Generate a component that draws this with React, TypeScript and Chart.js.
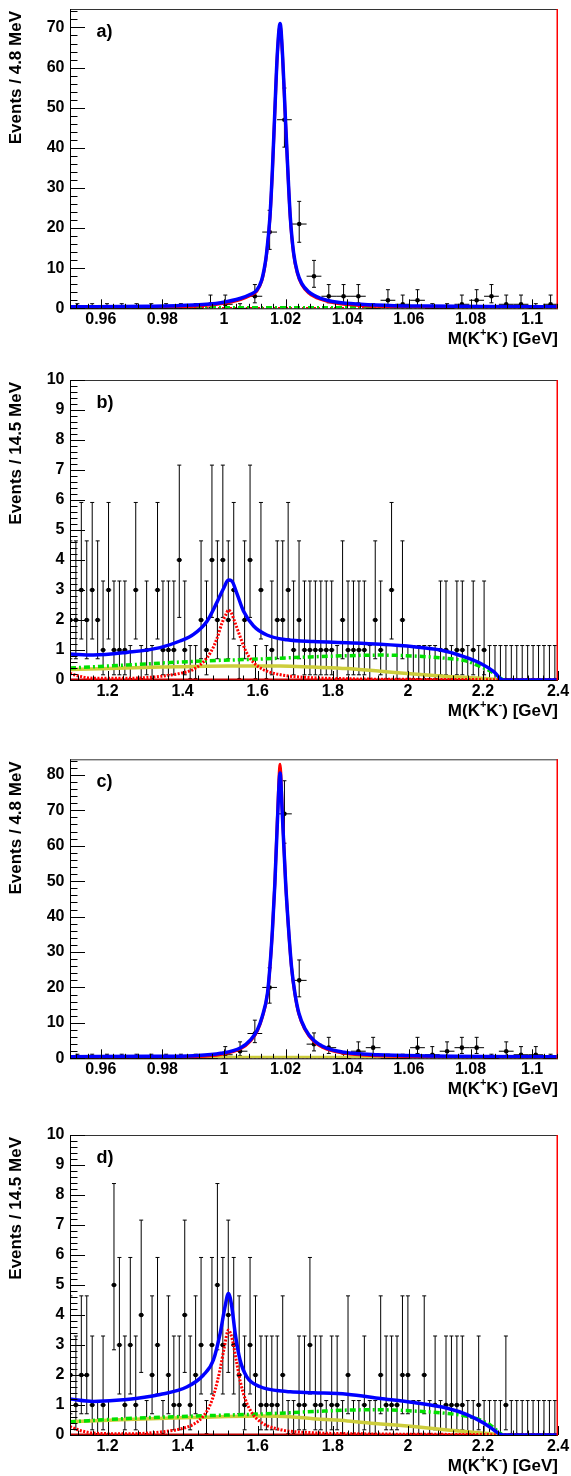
import React, { useEffect, useRef } from "react";
import { Chart, registerables } from "chart.js";
Chart.register(...registerables);

const FONT = '"Liberation Sans", Arial, Helvetica, sans-serif';
const BLUE = "rgb(0,0,255)";
const RED = "rgb(255,0,0)";
const DARKRED = "rgb(190,0,0)";
const GREEN = "rgb(0,225,0)";
const YELLOW = "rgb(205,205,60)";

// ---------- binning ----------
const phiBinStart = 0.95;
const phiBinWidth = 0.0048;
const highBinStart = 1.0939;
const highBinWidth = 0.0145;

// ---------- data (events per bin) ----------
const countsA = [0, 0, 0, 0, 0, 0, 0, 0, 0, 1, 1, 0, 3, 19, 47, 21, 8, 3, 3, 3, 0, 2, 1, 2, 0, 0, 1, 2, 3, 1, 1, 0, 1];
const countsC = [0, 0, 0, 0, 0, 0, 0, 0, 0, 0, 1, 2, 7, 20, 69, 22, 4, 3, 0, 2, 3, 0, 0, 3, 1, 2, 3, 3, 0, 2, 1, 1, 0];
const countsB = [
  2, 2, 3, 2, 3, 2, 1, 3, 1, 1, 1, 0, 3, 0, 1, 0, 3, 1, 1, 1,
  4, 1, 0, 0, 2, 1, 4, 2, 4, 2, 3, 0, 2, 4, 0, 3, 0, 1, 2, 2,
  3, 1, 2, 1, 1, 1, 1, 1, 1, 0, 2, 1, 1, 1, 1, 0, 2, 1, 0, 3,
  0, 2, 0, 0, 0, 0, 0, 0, 1, 1, 0, 1, 1, 0, 1, 0, 1, 0, 0, 0,
  0, 0, 0, 0, 0, 0, 0, 0, 0, 0,
];
const countsD = [
  2, 1, 2, 2, 1, 0, 1, 0, 5, 3, 1, 3, 1, 4, 0, 2, 3, 0, 2, 1,
  1, 4, 1, 2, 3, 0, 3, 5, 3, 4, 3, 2, 1, 3, 2, 1, 1, 1, 1, 2,
  0, 0, 1, 1, 3, 1, 1, 0, 1, 1, 0, 2, 0, 0, 1, 0, 0, 2, 1, 1,
  1, 2, 2, 0, 0, 2, 0, 1, 0, 1, 1, 1, 1, 0, 0, 1, 0, 0, 0, 0,
  1, 0, 0, 0, 0, 0, 0, 0, 0, 0,
];

// Poisson 68% intervals [low, high] for observed counts
const poissonInterval: Record<number, [number, number]> = {
  0: [0, 1.148], 1: [0.173, 3.3], 2: [0.708, 4.638], 3: [1.367, 5.918],
  4: [2.086, 7.163], 5: [2.84, 8.382], 7: [4.424, 10.763], 8: [5.237, 11.939],
  19: [14.684, 24.43], 20: [15.569, 25.542], 21: [16.458, 26.651], 22: [17.349, 27.757],
  47: [40.171, 54.903], 69: [60.716, 78.344],
};

// ---------- fit curves [x, y] ----------
type Pt = [number, number];
const totalA: Pt[] = [
  [0.95, 0.4], [0.9761, 0.5], [0.9901, 0.8], [0.9989, 1.4], [1.0054, 2.5], [1.0086, 3.5],
  [1.0106, 4.5], [1.0122, 7.0], [1.0132, 10.5], [1.0138, 13.7], [1.0149, 22.8], [1.0157, 34.5],
  [1.0165, 49.4], [1.0173, 63.5], [1.0182, 71.0], [1.019, 63.0], [1.0198, 49.4], [1.0207, 34.5],
  [1.0215, 22.8], [1.0226, 13.7], [1.0238, 9.0], [1.0252, 6.2], [1.0275, 4.1], [1.0314, 2.5],
  [1.0369, 1.5], [1.0444, 1.0], [1.0552, 0.65], [1.0662, 0.55], [1.0835, 0.45], [1.1084, 0.4],
];
const signalA: Pt[] = [
  [0.95, 0.1], [0.9761, 0.2], [0.9901, 0.5], [0.9989, 1.1], [1.0054, 2.2], [1.0086, 3.2],
  [1.0106, 4.2], [1.0122, 6.7], [1.0132, 10.2], [1.0138, 13.4], [1.0149, 22.5], [1.0157, 34.2],
  [1.0165, 49.1], [1.0173, 63.2], [1.0182, 70.7], [1.019, 62.7], [1.0198, 49.1], [1.0207, 34.2],
  [1.0215, 22.5], [1.0226, 13.4], [1.0238, 8.7], [1.0252, 5.9], [1.0275, 3.8], [1.0314, 2.2],
  [1.0369, 1.2], [1.0444, 0.7], [1.0552, 0.35], [1.0662, 0.25], [1.0835, 0.15], [1.1084, 0.1],
];
const bkgA: Pt[] = [[0.95, 0.2], [1.03, 0.2], [1.1084, 0.2]];
const flatA: Pt[] = [[0.95, 0.05], [1.1084, 0.05]];

const totalC: Pt[] = [
  [0.95, 0.45], [0.9761, 0.55], [0.9901, 0.75], [0.9989, 1.4], [1.0054, 3.0], [1.0086, 5.2],
  [1.0108, 8.0], [1.0124, 11.8], [1.0141, 18.4], [1.0149, 25.9], [1.0157, 36.2], [1.0165, 49.4],
  [1.0173, 66.4], [1.0182, 80.5], [1.0189, 69.2], [1.02, 49.4], [1.0209, 37.2], [1.0219, 25.9],
  [1.023, 18.4], [1.0243, 12.7], [1.0262, 8.5], [1.0292, 5.0], [1.0336, 2.8], [1.039, 1.7],
  [1.0499, 1.0], [1.0662, 0.65], [1.0835, 0.5], [1.1084, 0.45],
];
const signalC: Pt[] = [
  [0.95, 0.15], [0.9761, 0.25], [0.9901, 0.45], [0.9989, 1.1], [1.0054, 2.7], [1.0086, 4.9],
  [1.0108, 7.7], [1.0124, 11.5], [1.0141, 18.1], [1.0149, 25.6], [1.0157, 35.9], [1.0165, 49.5],
  [1.0173, 67.5], [1.0182, 83.0], [1.0189, 70.0], [1.02, 49.5], [1.0209, 36.9], [1.0219, 25.6],
  [1.023, 18.1], [1.0243, 12.4], [1.0262, 8.2], [1.0292, 4.7], [1.0336, 2.5], [1.039, 1.4],
  [1.0499, 0.7], [1.0662, 0.35], [1.0835, 0.2], [1.1084, 0.15],
];
const bkgC: Pt[] = [[0.95, 0.35], [1.03, 0.35], [1.1084, 0.35]];
const flatC: Pt[] = [[0.95, 0.05], [1.1084, 0.05]];

const totalB: Pt[] = [
  [1.1, 0.87], [1.162, 0.83], [1.251, 0.92], [1.34, 1.08], [1.393, 1.3], [1.429, 1.52],
  [1.4645, 1.95], [1.491, 2.58], [1.509, 3.05], [1.522, 3.33], [1.531, 3.3], [1.5445, 2.89],
  [1.562, 2.3], [1.589, 1.8], [1.6245, 1.5], [1.678, 1.34], [1.749, 1.28], [1.838, 1.24],
  [1.927, 1.19], [2.0155, 1.11], [2.087, 1.0], [2.149, 0.78], [2.193, 0.56], [2.229, 0.28],
  [2.2533, 0.0], [2.4, 0.0],
];
const signalB: Pt[] = [
  [1.1, 0.22], [1.127, 0.12], [1.162, 0.06], [1.26, 0.06], [1.34, 0.12], [1.393, 0.22],
  [1.428, 0.35], [1.455, 0.6], [1.476, 0.95], [1.492, 1.4], [1.505, 1.9], [1.516, 2.2],
  [1.522, 2.33], [1.529, 2.25], [1.54, 1.9], [1.553, 1.45], [1.567, 1.0], [1.58, 0.72],
  [1.601, 0.45], [1.628, 0.28], [1.673, 0.15], [1.74, 0.08], [1.847, 0.04], [2.033, 0.02],
  [2.247, 0.01], [2.4, 0.0],
];
const phspB: Pt[] = [
  [1.1, 0.4], [1.252, 0.5], [1.428, 0.62], [1.607, 0.7], [1.74, 0.77], [1.839, 0.81],
  [1.927, 0.83], [2.015, 0.8], [2.105, 0.72], [2.159, 0.62], [2.193, 0.45], [2.22, 0.3],
  [2.247, 0.06], [2.255, 0.0],
];
const bkgB: Pt[] = [
  [1.1, 0.35], [1.34, 0.43], [1.519, 0.47], [1.66, 0.47], [1.748, 0.43], [1.839, 0.38],
  [1.927, 0.29], [2.015, 0.2], [2.105, 0.12], [2.193, 0.06], [2.239, 0.02], [2.255, 0.0],
];
const flatB: Pt[] = [[1.1, 0.02], [2.4, 0.02]];

const totalD: Pt[] = [
  [1.1, 1.2], [1.162, 1.12], [1.251, 1.18], [1.34, 1.35], [1.411, 1.6], [1.4555, 2.0],
  [1.482, 2.5], [1.5, 3.39], [1.513, 4.28], [1.522, 4.72], [1.531, 4.28], [1.54, 3.39],
  [1.553, 2.5], [1.571, 1.94], [1.607, 1.61], [1.651, 1.48], [1.687, 1.44], [1.749, 1.41],
  [1.838, 1.36], [1.927, 1.22], [2.0155, 1.08], [2.105, 0.89], [2.159, 0.67], [2.203, 0.39],
  [2.229, 0.17], [2.252, 0.0], [2.4, 0.0],
];
const signalD: Pt[] = [
  [1.1, 0.28], [1.127, 0.15], [1.167, 0.06], [1.26, 0.04], [1.34, 0.1], [1.393, 0.2],
  [1.428, 0.35], [1.4547, 0.62], [1.4733, 1.0], [1.4867, 1.5], [1.5, 2.2], [1.5107, 2.9],
  [1.5221, 3.5], [1.532, 3.2], [1.5427, 2.5], [1.5533, 1.8], [1.5667, 1.2], [1.5853, 0.72],
  [1.612, 0.4], [1.66, 0.18], [1.74, 0.08], [1.873, 0.04], [2.113, 0.02], [2.4, 0.0],
];
const phspD: Pt[] = [
  [1.1, 0.44], [1.252, 0.55], [1.428, 0.63], [1.607, 0.7], [1.748, 0.78], [1.839, 0.83],
  [1.927, 0.84], [2.015, 0.8], [2.105, 0.72], [2.159, 0.62], [2.193, 0.5], [2.22, 0.33],
  [2.241, 0.11], [2.252, 0.0],
];
const bkgD: Pt[] = [
  [1.1, 0.44], [1.252, 0.52], [1.428, 0.58], [1.607, 0.63], [1.687, 0.61], [1.748, 0.54],
  [1.839, 0.47], [1.927, 0.37], [2.015, 0.28], [2.105, 0.17], [2.175, 0.09], [2.229, 0.03],
  [2.252, 0.0],
];
const flatD: Pt[] = [[1.1, 0.02], [2.4, 0.02]];

// ---------- axis ticks ----------
const phiTicks = [0.96, 0.98, 1.0, 1.02, 1.04, 1.06, 1.08, 1.1];
const phiTickLabels = ["0.96", "0.98", "1", "1.02", "1.04", "1.06", "1.08", "1.1"];
const highTicks = [1.2, 1.4, 1.6, 1.8, 2.0, 2.2, 2.4];
const highTickLabels = ["1.2", "1.4", "1.6", "1.8", "2", "2.2", "2.4"];
const yTicksA = [0, 10, 20, 30, 40, 50, 60, 70];
const yTicksC = [0, 10, 20, 30, 40, 50, 60, 70, 80];
const yTicksBD = [0, 1, 2, 3, 4, 5, 6, 7, 8, 9, 10];

interface Curve { data: Pt[]; color: string; width: number; dash?: number[]; order: number }
interface PanelSpec {
  top: number; height: number; plotTop: number; plotBottom: number;
  xMin: number; xMax: number; yMax: number;
  binStart: number; binWidth: number; counts: number[];
  curves: Curve[];
  xTicks: number[]; xTickLabels: string[]; xMinorStep: number;
  yTicks: number[]; yMinorStep: number;
  yTitle: string; label: string;
}

const PLOT_LEFT = 70;
const PLOT_RIGHT = 558;
const W = 571;

function line(ctx: CanvasRenderingContext2D, x1: number, y1: number, x2: number, y2: number) {
  ctx.beginPath();
  ctx.moveTo(x1, y1);
  ctx.lineTo(x2, y2);
  ctx.stroke();
}

function makePlugin(s: PanelSpec) {
  return {
    id: "rootStyle",
    beforeDatasetsDraw(chart: any) {
      const { ctx, chartArea: a } = chart;
      const x = chart.scales.x, y = chart.scales.y;
      ctx.save();
      ctx.beginPath();
      ctx.rect(a.left, a.top, a.right - a.left, a.bottom - a.top + 1);
      ctx.clip();
      ctx.strokeStyle = "#000";
      ctx.lineWidth = 1;
      s.counts.forEach((n, i) => {
        const c = s.binStart + s.binWidth * (i + 0.5);
        const [lo, hi] = poissonInterval[n];
        const px = x.getPixelForValue(c);
        const yLo = y.getPixelForValue(lo);
        const yHi = y.getPixelForValue(hi);
        const py = y.getPixelForValue(n);
        const xl = x.getPixelForValue(c - s.binWidth / 2);
        const xr = x.getPixelForValue(c + s.binWidth / 2);
        ctx.beginPath();
        ctx.moveTo(px, yLo); ctx.lineTo(px, yHi);
        ctx.moveTo(px - 2, yHi); ctx.lineTo(px + 2, yHi);
        if (n > 0) { ctx.moveTo(px - 2, yLo); ctx.lineTo(px + 2, yLo); }
        ctx.moveTo(xl, py); ctx.lineTo(xr, py);
        ctx.stroke();
      });
      ctx.restore();
    },
    afterDraw(chart: any) {
      const { ctx, chartArea: a } = chart;
      const x = chart.scales.x, y = chart.scales.y;
      ctx.save();
      // frame
      ctx.lineWidth = 1;
      ctx.strokeStyle = "#333";
      line(ctx, a.left, a.top + 0.5, a.right, a.top + 0.5);
      ctx.strokeStyle = "#000";
      line(ctx, a.left + 0.5, a.top, a.left + 0.5, a.bottom + 0.5);
      line(ctx, a.left, a.bottom + 0.5, a.right, a.bottom + 0.5);
      ctx.strokeStyle = RED;
      ctx.lineWidth = 1.5;
      line(ctx, a.right - 0.75, a.top, a.right - 0.75, a.bottom + 0.5);
      ctx.lineWidth = 1;
      ctx.strokeStyle = "#000";
      // y ticks
      const ymajStep = s.yTicks[1] - s.yTicks[0];
      const nMinorY = Math.round(ymajStep / s.yMinorStep);
      for (let k = 0; k * s.yMinorStep <= s.yMax + 1e-9; k++) {
        const v = k * s.yMinorStep;
        const py = Math.round(y.getPixelForValue(v)) + 0.5;
        const len = k % nMinorY === 0 ? 15 : 7.5;
        line(ctx, a.left, py, a.left + len, py);
      }
      // x ticks
      const xmajStep = s.xTicks[1] - s.xTicks[0];
      const nMinorX = Math.round(xmajStep / s.xMinorStep);
      for (let k = -200; k < 400; k++) {
        const v = s.xTicks[0] + k * s.xMinorStep;
        if (v < s.xMin - 1e-9 || v > s.xMax + 1e-9) continue;
        const px = Math.round(x.getPixelForValue(v)) + 0.5;
        const len = ((k % nMinorX) + nMinorX) % nMinorX === 0 ? 9 : 4.5;
        line(ctx, px, a.bottom, px, a.bottom - len);
      }
      // tick labels
      ctx.fillStyle = "#000";
      ctx.font = `bold 16px ${FONT}`;
      ctx.textBaseline = "middle";
      ctx.textAlign = "right";
      s.yTicks.forEach((v) => {
        ctx.fillText(String(v), a.left - 5.5, y.getPixelForValue(v));
      });
      ctx.textAlign = "center";
      s.xTicks.forEach((v, i) => {
        ctx.fillText(s.xTickLabels[i], x.getPixelForValue(v), a.bottom + 11.5);
      });
      // y title (top aligned)
      ctx.save();
      ctx.translate(16.5, a.top + 2);
      ctx.rotate(-Math.PI / 2);
      ctx.font = `bold 17px ${FONT}`;
      ctx.textAlign = "right";
      ctx.textBaseline = "middle";
      ctx.fillText(s.yTitle, 0, 0);
      ctx.restore();
      // x title with superscripts
      const big = `bold 17px ${FONT}`;
      const small = `bold 11px ${FONT}`;
      const parts: [string, string, number][] = [
        ["M(K", big, 0], ["+", small, -6], ["K", big, 0], ["-", small, -6], [") [GeV]", big, 0],
      ];
      let total = 0;
      parts.forEach((p) => { ctx.font = p[1]; total += ctx.measureText(p[0]).width; });
      let cx = PLOT_RIGHT - total;
      const ty = a.bottom + 31;
      ctx.textAlign = "left";
      ctx.textBaseline = "middle";
      parts.forEach((p) => {
        ctx.font = p[1];
        ctx.fillText(p[0], cx, ty + p[2]);
        cx += ctx.measureText(p[0]).width;
      });
      // panel label
      ctx.font = `bold 18px ${FONT}`;
      ctx.textAlign = "left";
      ctx.fillText(s.label, 96.5, a.top + 23);
      ctx.restore();
    },
  };
}

function Panel({ spec }: { spec: PanelSpec }) {
  const ref = useRef<HTMLCanvasElement | null>(null);
  useEffect(() => {
    if (!ref.current) return;
    const s = spec;
    const pts = s.counts.map((n, i) => ({ x: s.binStart + s.binWidth * (i + 0.5), y: n }));
    const datasets: any[] = s.curves.map((c) => ({
      data: c.data.map(([px, py]) => ({ x: px, y: py })),
      showLine: true,
      borderColor: c.color,
      borderWidth: c.width,
      borderDash: c.dash || [],
      pointRadius: 0,
      cubicInterpolationMode: "monotone",
      fill: false,
      order: c.order,
    }));
    datasets.push({
      data: pts,
      showLine: false,
      pointRadius: 2.3,
      pointBackgroundColor: "#000",
      pointBorderWidth: 0,
      order: 20,
    });
    const chart = new Chart(ref.current, {
      type: "scatter",
      data: { datasets },
      options: {
        animation: false,
        responsive: false,
        devicePixelRatio: 1,
        layout: { padding: { top: s.plotTop, right: W - PLOT_RIGHT, left: 0, bottom: 0 } },
        plugins: { legend: { display: false }, tooltip: { enabled: false } },
        events: [],
        scales: {
          x: {
            type: "linear", min: s.xMin, max: s.xMax,
            ticks: { display: false }, grid: { display: false, drawTicks: false }, border: { display: false },
            afterFit: (sc: any) => { sc.height = s.height - s.plotBottom; },
          },
          y: {
            type: "linear", min: 0, max: s.yMax,
            ticks: { display: false }, grid: { display: false, drawTicks: false }, border: { display: false },
            afterFit: (sc: any) => { sc.width = PLOT_LEFT; },
          },
        },
      } as any,
      plugins: [makePlugin(s) as any],
    });
    return () => chart.destroy();
  }, [spec]);
  return (
    <canvas
      ref={ref}
      width={W}
      height={spec.height}
      style={{ position: "absolute", left: 0, top: spec.top, width: W, height: spec.height }}
    />
  );
}

const panels: PanelSpec[] = [
  {
    top: 0, height: 360, plotTop: 9, plotBottom: 308.3,
    xMin: 0.95, xMax: 1.1084, yMax: 74.6,
    binStart: phiBinStart, binWidth: phiBinWidth, counts: countsA,
    curves: [
      { data: flatA, color: RED, width: 2, dash: [2, 2], order: 4 },
      { data: bkgA, color: GREEN, width: 3, dash: [6, 3, 2, 3], order: 3 },
      { data: signalA, color: RED, width: 3, order: 2 },
      { data: totalA, color: BLUE, width: 3.5, order: 1 },
    ],
    xTicks: phiTicks, xTickLabels: phiTickLabels, xMinorStep: 0.004,
    yTicks: yTicksA, yMinorStep: 2, yTitle: "Events / 4.8 MeV", label: "a)",
  },
  {
    top: 360, height: 370, plotTop: 20, plotBottom: 320,
    xMin: 1.1, xMax: 2.4, yMax: 10,
    binStart: highBinStart, binWidth: highBinWidth, counts: countsB,
    curves: [
      { data: flatB, color: DARKRED, width: 2, order: 5 },
      { data: bkgB, color: YELLOW, width: 3.5, order: 4 },
      { data: phspB, color: GREEN, width: 3.5, dash: [6, 3, 2, 3], order: 3 },
      { data: signalB, color: RED, width: 3, dash: [2, 1.5], order: 2 },
      { data: totalB, color: BLUE, width: 3.5, order: 1 },
    ],
    xTicks: highTicks, xTickLabels: highTickLabels, xMinorStep: 0.04,
    yTicks: yTicksBD, yMinorStep: 0.2, yTitle: "Events / 14.5 MeV", label: "b)",
  },
  {
    top: 730, height: 370, plotTop: 29.3, plotBottom: 328.3,
    xMin: 0.95, xMax: 1.1084, yMax: 84.4,
    binStart: phiBinStart, binWidth: phiBinWidth, counts: countsC,
    curves: [
      { data: flatC, color: RED, width: 2, dash: [2, 2], order: 4 },
      { data: bkgC, color: YELLOW, width: 2.5, order: 3 },
      { data: signalC, color: RED, width: 3, order: 2 },
      { data: totalC, color: BLUE, width: 3.5, order: 1 },
    ],
    xTicks: phiTicks, xTickLabels: phiTickLabels, xMinorStep: 0.004,
    yTicks: yTicksC, yMinorStep: 2, yTitle: "Events / 4.8 MeV", label: "c)",
  },
  {
    top: 1100, height: 376, plotTop: 35, plotBottom: 335,
    xMin: 1.1, xMax: 2.4, yMax: 10,
    binStart: highBinStart, binWidth: highBinWidth, counts: countsD,
    curves: [
      { data: flatD, color: DARKRED, width: 2, order: 5 },
      { data: bkgD, color: YELLOW, width: 3.5, order: 4 },
      { data: phspD, color: GREEN, width: 3.5, dash: [6, 3, 2, 3], order: 3 },
      { data: signalD, color: RED, width: 3, dash: [2, 1.5], order: 2 },
      { data: totalD, color: BLUE, width: 3.5, order: 1 },
    ],
    xTicks: highTicks, xTickLabels: highTickLabels, xMinorStep: 0.04,
    yTicks: yTicksBD, yMinorStep: 0.2, yTitle: "Events / 14.5 MeV", label: "d)",
  },
];

export default function App() {
  return (
    <div style={{ position: "absolute", left: 0, top: 0, width: W, height: 1476, background: "#fff", overflow: "hidden" }}>
      {panels.map((p, i) => (
        <Panel key={i} spec={p} />
      ))}
    </div>
  );
}
